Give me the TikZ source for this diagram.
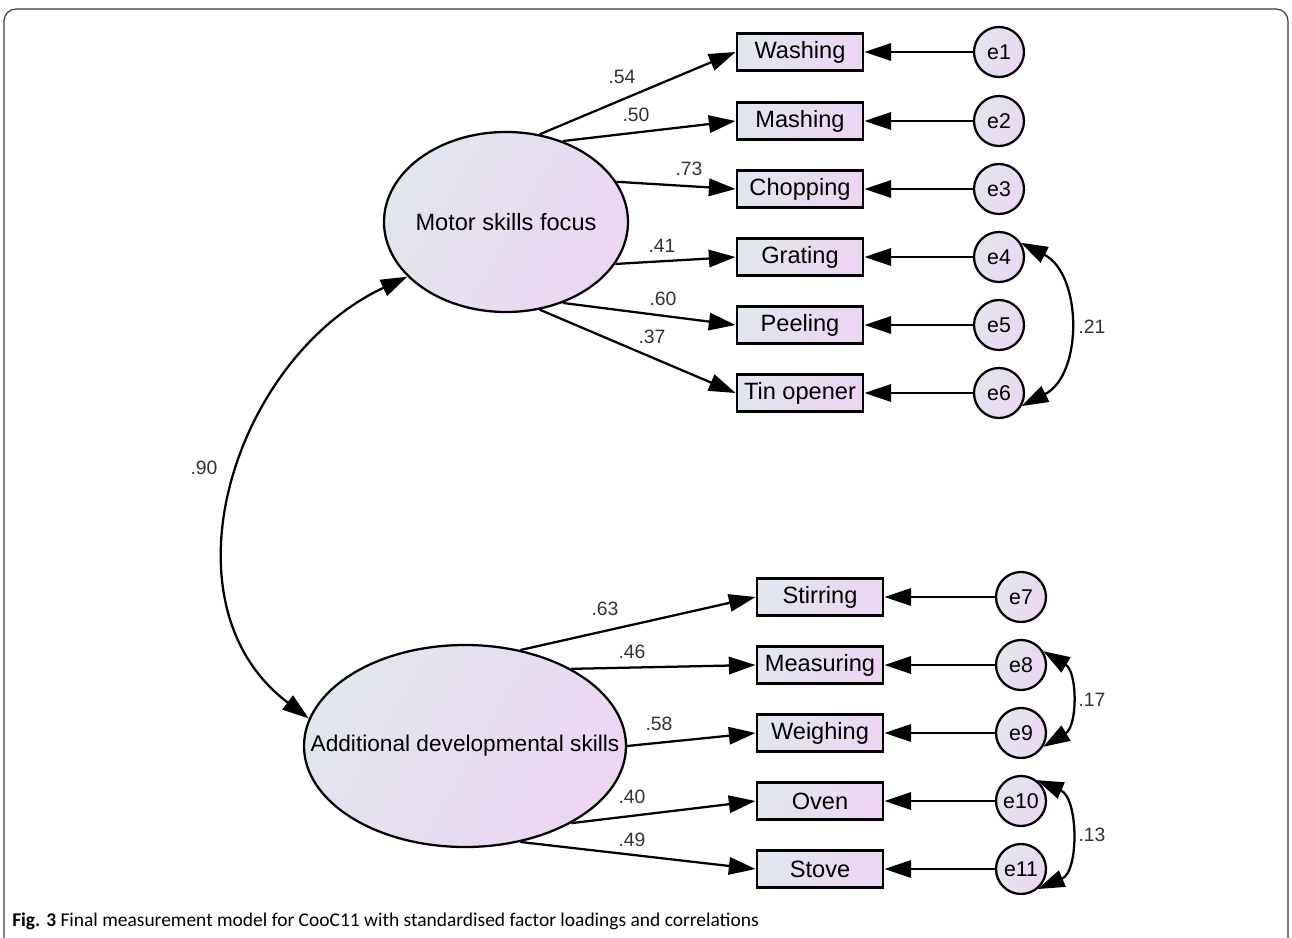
\documentclass[tikz,border=0pt]{standalone}
\usepackage{fontspec}
\setmainfont{Liberation Sans}
\newfontfamily\capfont{Carlito}
\usetikzlibrary{arrows.meta,shapes.geometric}
\definecolor{shA}{RGB}{226,230,238}
\definecolor{shB}{RGB}{236,214,242}
\definecolor{numgray}{RGB}{50,50,50}
\definecolor{framegray}{RGB}{60,60,60}
\tikzset{
  lat/.style={ellipse, draw, line width=1.7pt, inner sep=0pt, left color=shA, right color=shB, shading angle=60},
  obs/.style={rectangle, draw, line width=1.7pt, minimum width=95pt, minimum height=27.75pt, inner sep=0pt,
     left color=shA, right color=shB, shading angle=60, font=\fontsize{17.7}{18}\selectfont},
  err/.style={circle, draw, line width=1.7pt, minimum size=37.5pt, inner sep=0pt,
     left color=shA, right color=shB, shading angle=60, font=\fontsize{16}{16}\selectfont},
  load/.style={line width=1.7pt, -{Triangle[length=20pt,width=13pt]}},
  cov/.style={line width=1.7pt, {Triangle[length=20pt,width=13pt]}-{Triangle[length=20pt,width=13pt]}},
  num/.style={font=\fontsize{14.5}{15}\selectfont, text=numgray, inner sep=0pt}
}
\begin{document}
\begin{tikzpicture}[x=0.75pt, y=-0.75pt]
\useasboundingbox (0,0) rectangle (1292,938);
\draw[line width=0.9pt, framegray, rounded corners=9pt] (4,960) -- (4,9) -- (1288,9) -- (1288,960);

% latent variables
\node[lat, minimum width=183pt, minimum height=135pt,
  label={[font=\fontsize{17.7}{18}\selectfont]center:Motor skills focus}] (mot) at (506,222) {};
\node[lat, minimum width=241.5pt, minimum height=151.5pt,
  label={[font=\fontsize{17}{18}\selectfont]center:Additional developmental skills}] (add) at (465,746) {};

% observed variables (top)
\node[obs] (wash) at (800,52) {Washing};
\node[obs] (mash) at (800,121) {Mashing};
\node[obs] (chop) at (800,189) {Chopping};
\node[obs] (grat) at (800,257) {Grating};
\node[obs] (peel) at (800,325) {Peeling};
\node[obs] (tin)  at (800,393) {Tin opener};
% observed variables (bottom)
\node[obs] (stir) at (820,597) {Stirring};
\node[obs] (meas) at (820,665) {Measuring};
\node[obs] (weig) at (820,733) {Weighing};
\node[obs] (oven) at (820,801) {Oven};
\node[obs] (stov) at (820,869) {Stove};

% errors
\node[err] (e1) at (999,52) {e1};
\node[err] (e2) at (999,121) {e2};
\node[err] (e3) at (999,189) {e3};
\node[err] (e4) at (999,257) {e4};
\node[err] (e5) at (999,325) {e5};
\node[err] (e6) at (999,393) {e6};
\node[err] (e7) at (1021,597) {e7};
\node[err] (e8) at (1021,665) {e8};
\node[err] (e9) at (1021,733) {e9};
\node[err] (e10) at (1021,801) {e10};
\node[err] (e11) at (1021,869) {e11};

% loadings
\draw[load] (mot.69) -- (wash.west);
\draw[load] (mot.55) -- (mash.west);
\draw[load] (mot.20) -- (chop.west);
\draw[load] (mot.-21) -- (grat.west);
\draw[load] (mot.-55) -- (peel.west);
\draw[load] (mot.-69) -- (tin.west);
\draw[load] (add.60) -- (stir.west);
\draw[load] (add.36) -- (meas.west);
\draw[load] (add.0) -- (weig.west);
\draw[load] (add.-36) -- (oven.west);
\draw[load] (add.-60) -- (stov.west);

% error paths
\foreach \e/\o in {e1/wash,e2/mash,e3/chop,e4/grat,e5/peel,e6/tin,e7/stir,e8/meas,e9/weig,e10/oven,e11/stov}
  \draw[load] (\e.west) -- (\o.east);

% covariances
\draw[cov] (mot.209) to[out=205,in=143,looseness=1.08] (add.170);
\draw[cov] (e4.33) to[out=-27,in=27,looseness=1.08] (e6.-30);
\draw[cov] (e8.32) to[out=-31,in=31,looseness=1.08] (e9.-32);
\draw[cov] (e10.53) to[out=-23,in=23,looseness=1.06] (e11.-50);

% labels
\node[num] (l1) at (622,77) {.54};
\node[num] (l2) at (636,115) {.50};
\node[num] (l3) at (689,169) {.73};
\node[num] (l4) at (662,246) {.41};
\node[num] (l5) at (663,299) {.60};
\node[num] (l6) at (652,337) {.37};
\node[num] (l7) at (605,609) {.63};
\node[num] (l8) at (632,652) {.46};
\node[num] (l9) at (659,724) {.58};
\node[num] (l10) at (632,797) {.40};
\node[num] (l11) at (632,840) {.49};
\node[num] (c1) at (204,468) {.90};
\node[num] (c2) at (1092,327) {.21};
\node[num] (c3) at (1092,700) {.17};
\node[num] (c4) at (1092,835) {.13};

% caption
\node[anchor=base west, inner sep=0pt, font=\capfont\fontsize{14.6}{15}\selectfont] (cap) at (12,926)
  {\textbf{Fig. 3} Final measurement model for CooC11 with standardised factor loadings and correlations};
\end{tikzpicture}
\end{document}
